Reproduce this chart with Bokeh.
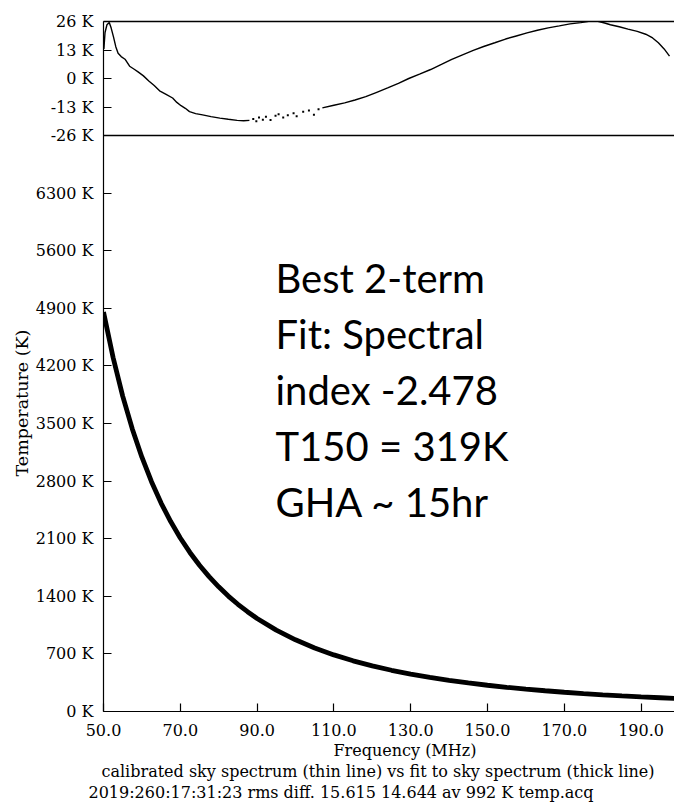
import math
from bokeh.plotting import figure
from bokeh.models import Range1d, LinearAxis, FixedTicker, Span, Label, Title
from bokeh.embed import file_html
from bokeh.resources import INLINE

# ---------------- data ----------------
fit_freq = [50, 52.5, 55, 57.5, 60, 62.5, 65, 67.5, 70, 72.5, 75, 77.5, 80, 82.5,
            85, 87.5, 90, 95, 100, 105, 110, 115, 120, 125, 130, 135, 140, 145,
            150, 155, 160, 165, 170, 175, 180, 185, 190, 195, 198.7]
fit_temp = [4854, 4302, 3833, 3434, 3090, 2793, 2533, 2308, 2109, 1933, 1777, 1639,
            1515, 1403, 1303, 1213, 1131, 989, 871, 772, 688, 616, 555, 501, 455,
            414, 378, 347, 319, 294, 272, 252, 234, 218, 203, 190, 178, 167, 159]

res_freq_a = [50.1, 50.4, 50.9, 51.5, 52.0, 52.6, 53.2, 53.8, 54.6, 55.6, 56.8, 58.0,
              59.0, 60.4, 61.8, 63.2, 64.6, 66.3, 68.0, 69.1, 70.2, 71.3, 72.4, 74.0,
              75.8, 78.0, 80.3, 82.5, 84.8, 86.5, 88.0]
res_k_a = [13.5, 21.0, 24.5, 25.5, 23.0, 19.0, 14.5, 11.5, 10.0, 8.8, 5.6, 4.2,
           3.0, 1.2, -1.1, -3.2, -5.6, -7.2, -8.9, -10.9, -12.4, -13.6, -15.1, -16.0,
           -16.6, -17.4, -18.1, -18.6, -19.1, -19.3, -19.1]

res_freq_b = [89.0, 89.8, 90.5, 91.5, 92.3, 93.5, 94.8, 95.6, 96.8, 98.0, 99.5, 100.3,
              102.0, 103.5, 104.8, 106.0]
res_k_b = [-18.5, -19.5, -17.8, -18.8, -17.5, -18.9, -17.0, -16.3, -17.8, -16.8, -15.9,
           -17.2, -15.2, -14.6, -16.5, -14.0]

res_freq_c = [107.0, 110.0, 112.8, 115.5, 118.3, 121.0, 124.0, 126.8, 129.5, 132.3,
              135.2, 138.0, 140.7, 143.5, 146.3, 149.0, 151.9, 154.7, 157.5, 160.3,
              163.0, 165.8, 168.7, 171.5, 174.3, 176.0, 177.6, 179.0, 180.5, 182.0,
              184.3, 186.6, 189.0, 191.2, 193.0, 194.5, 196.0, 197.4]
res_k_c = [-13.4, -12.2, -11.1, -9.8, -8.3, -6.4, -4.3, -2.2, 0.0, 2.0,
           4.1, 6.4, 8.7, 10.8, 12.8, 14.6, 16.3, 18.0, 19.4, 20.8,
           22.0, 23.1, 24.0, 24.9, 25.5, 26.0, 26.5, 26.0, 25.3, 24.5,
           23.6, 22.5, 21.5, 20.2, 18.5, 16.3, 13.5, 10.2]

x_ticks = [50, 70, 90, 110, 130, 150, 170, 190]
x_tick_labels = ["50.0", "70.0", "90.0", "110.0", "130.0", "150.0", "170.0", "190.0"]
main_ticks = [0, 700, 1400, 2100, 2800, 3500, 4200, 4900, 5600, 6300]
main_tick_labels = ["0 K", "700 K", "1400 K", "2100 K", "2800 K", "3500 K",
                    "4200 K", "4900 K", "5600 K", "6300 K"]
res_ticks = [-26, -13, 0, 13, 26]
res_tick_labels = ["-26 K", "-13 K", "0 K", "13 K", "26 K"]

annotation_lines = ["Best 2-term", "Fit: Spectral", "index -2.478", "T150 = 319K", "GHA ~ 15hr"]
x_title = "Frequency (MHz)"
y_title = "Temperature (K)"
caption1 = "calibrated sky spectrum (thin line) vs fit to sky spectrum (thick line)"
caption2 = "2019:260:17:31:23 rms diff. 15.615 14.644 av   992 K temp.acq"

# ---------------- layout ----------------
W, H = 674, 803
LEFT, TOP, BOTTOM = 103, 21, 92
FRAME_W = W - LEFT
FRAME_H = H - TOP - BOTTOM          # 690
MAIN_H = 576                        # height of the lower panel
X_START, X_END = 50, 198.7
MAIN_MAX = 7000
MAIN_TOP = MAIN_MAX * FRAME_H / MAIN_H
RES_SCALE = (MAIN_TOP - MAIN_MAX) / 52.0
RES_START = -26 - MAIN_MAX / RES_SCALE
RES_END = 26
FRAME_BOTTOM_PX = TOP + FRAME_H


def xpx(px):
    return X_START + (px - LEFT) * (X_END - X_START) / FRAME_W


def ypx(py):
    return (FRAME_BOTTOM_PX - py) * MAIN_MAX / MAIN_H


p = figure(width=W, height=H, output_backend="svg", toolbar_location=None,
           x_range=Range1d(X_START, X_END), y_range=Range1d(0, MAIN_TOP),
           x_axis_type=None, y_axis_type=None,
           min_border_left=LEFT, min_border_right=0, min_border_top=TOP,
           min_border_bottom=BOTTOM)
p.extra_y_ranges = {"res": Range1d(RES_START, RES_END)}
p.outline_line_color = None
p.background_fill_color = "white"
p.border_fill_color = "white"

SERIF = "DejaVu Serif"


def style_axis(ax, size="16px", standoff=10):
    ax.axis_line_color = "black"
    ax.axis_line_width = 1.2
    ax.major_tick_in = 8
    ax.major_tick_out = 0
    ax.major_tick_line_color = "black"
    ax.major_tick_line_width = 1.2
    ax.minor_tick_line_color = None
    ax.major_label_text_font = SERIF
    ax.major_label_text_font_size = size
    ax.major_label_text_color = "black"
    ax.major_label_standoff = standoff


xaxis = LinearAxis(ticker=FixedTicker(ticks=x_ticks),
                   major_label_overrides=dict(zip(x_ticks, x_tick_labels)))
style_axis(xaxis, standoff=12)
p.add_layout(xaxis, "below")

res_pos = [math.floor((MAIN_MAX + (r + 26) * RES_SCALE) * 1000) / 1000 for r in res_ticks]
overrides = dict(zip(main_ticks, main_tick_labels))
overrides.update(dict(zip(res_pos, res_tick_labels)))
yaxis = LinearAxis(ticker=FixedTicker(ticks=main_ticks + res_pos),
                   major_label_overrides=overrides)
style_axis(yaxis)
p.add_layout(yaxis, "left")

top_axis = LinearAxis(ticker=FixedTicker(ticks=[]))
top_axis.axis_line_color = "black"
top_axis.axis_line_width = 1.5
top_axis.major_tick_line_color = None
top_axis.minor_tick_line_color = None
top_axis.major_label_text_font_size = "0px"
p.add_layout(top_axis, "above")

p.add_layout(Span(location=MAIN_MAX, dimension="width", line_color="black", line_width=1.5))

# curves
p.line(fit_freq, fit_temp, line_width=4.8, line_color="black")
p.line(res_freq_a, res_k_a, y_range_name="res", line_width=1.4, line_color="black")
p.scatter(res_freq_b, res_k_b, y_range_name="res", marker="square", size=2,
          line_color=None, fill_color="black")
p.line(res_freq_c, res_k_c, y_range_name="res", line_width=1.4, line_color="black")

# annotation block
for i, txt in enumerate(annotation_lines):
    p.add_layout(Label(x=xpx(275), y=ypx(277 + 56 * i), text=txt,
                       text_font="Lato", text_font_size="40px", text_color="black",
                       text_align="left", text_baseline="middle"))

# axis titles and captions (titles live in the side panels)
ytitle = Title(text=y_title, align="left", offset=FRAME_BOTTOM_PX - 476, standoff=2,
               text_font=SERIF, text_font_size="17.5px", text_font_style="normal",
               text_color="black")
p.add_layout(ytitle, "left")

for txt, off in [(x_title, 333 - LEFT), (caption1, -2), (caption2, -15)]:
    p.add_layout(Title(text=txt, align="left", offset=off, standoff=0,
                       text_font=SERIF, text_font_size="16px", text_font_style="normal",
                       text_color="black"), "below")

open("out.html", "w").write(file_html(p, INLINE))
